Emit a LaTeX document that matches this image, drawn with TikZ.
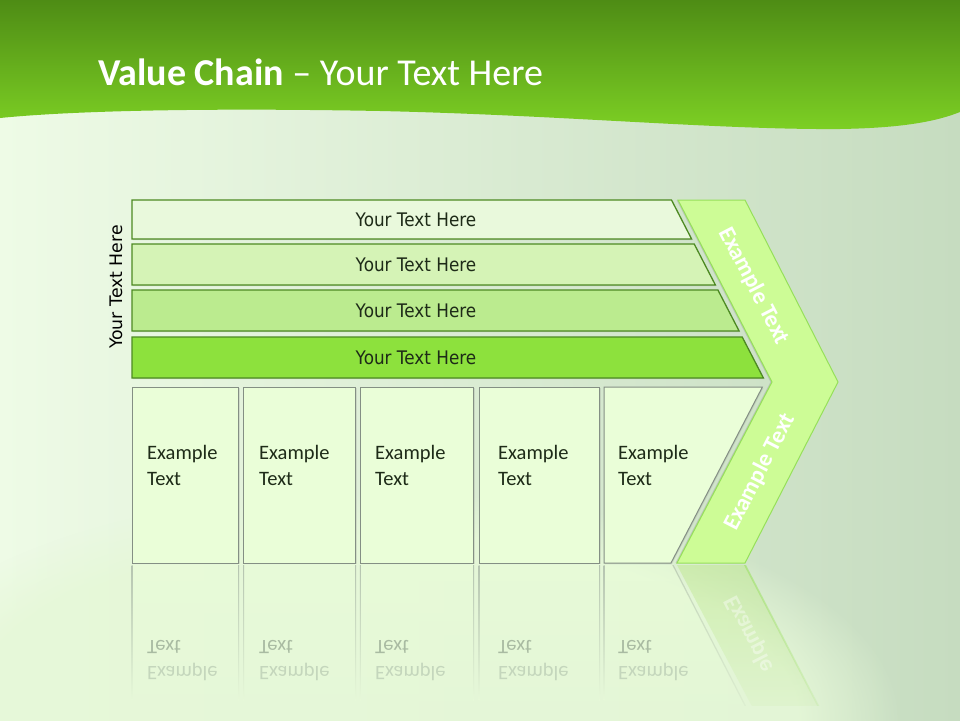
\documentclass[tikz,border=0pt]{standalone}
\usepackage{fontspec}
\setmainfont{Carlito}
\newfontfamily\barfont[FakeStretch=0.9]{DejaVu Sans}
\newfontfamily\vfont{DejaVu Sans}
\usetikzlibrary{fadings,shadows}
\definecolor{bgL}{HTML}{EEFBE6}
\definecolor{bgM}{HTML}{D4E9CC}
\definecolor{bgR}{HTML}{C6DCC0}
\definecolor{bgLow}{HTML}{E6F8D8}
\definecolor{hdTop}{HTML}{4E8C15}
\definecolor{hdBot}{HTML}{7DD024}
\definecolor{barA}{HTML}{E9F9DC}
\definecolor{barB}{HTML}{D5F3B6}
\definecolor{barC}{HTML}{BBEB8F}
\definecolor{barD}{HTML}{8DE13D}
\definecolor{barEdge}{HTML}{4D8A22}
\definecolor{boxFill}{HTML}{EAFED8}
\definecolor{boxEdge}{HTML}{848F84}
\definecolor{chevFill}{HTML}{CDFC96}
\definecolor{chevEdge}{HTML}{96E05A}
\definecolor{txtDark}{HTML}{1E2B18}
\definecolor{refA}{HTML}{C4D6BC}
\definecolor{refB}{HTML}{A9BBA2}
\definecolor{refLine}{HTML}{B5C4B0}
\tikzfading[name=reflfade, top color=transparent!45, bottom color=transparent!100]
\tikzset{
  barshape/.style={draw=barEdge, line width=1.3pt, drop shadow={opacity=0.25, shadow xshift=0.8pt, shadow yshift=-1.2pt}},
  boxshape/.style={draw=boxEdge, fill=boxFill, line width=1pt, drop shadow={opacity=0.2, shadow xshift=1pt, shadow yshift=-1pt}},
  bartext/.style={font=\barfont\fontsize{18.7}{22}\selectfont, text=txtDark},
  boxtext/.style={font=\fontsize{20.5}{26}\selectfont, text=txtDark, align=left, anchor=west, inner sep=0pt},
  reftext/.style={font=\fontsize{20.5}{26}\selectfont, align=left, anchor=west, inner sep=0pt, yscale=-1},
  chevtext/.style={font=\bfseries\fontsize{23.5}{26}\selectfont, text=white, inner sep=1pt},
  refline/.style={top color=refLine, bottom color=bgLow},
}
\begin{document}
\begin{tikzpicture}[x=1pt,y=-1pt]
\useasboundingbox (0,0) rectangle (960,720);
% background
\shade[left color=bgL, middle color=bgM, right color=bgR] (0,0) rectangle (960,720);
\fill[bgLow, path fading=circle with fuzzy edge 20 percent, opacity=0.9] (380,720) ellipse (520 and 230);
% header band
\shade[top color=hdTop, bottom color=hdBot] (0,0) -- (960,0) -- (960,112)
  .. controls (935,122) and (900,128) .. (840,129)
  .. controls (720,130) and (560,115) .. (380,111)
  .. controls (220,108) and (80,110) .. (0,118) -- cycle;
\node[anchor=base west, text=white, font=\fontsize{38}{40}\selectfont, inner sep=0pt] (title) at (98,85) {\textbf{Value Chain} – Your Text Here};

% reflections
\begin{scope}
\clip (0,565) rectangle (960,705);
\fill[boxFill, path fading=reflfade] (132,565) rectangle (238.7,739);
\fill[boxFill, path fading=reflfade] (243.7,565) rectangle (355.7,739);
\fill[boxFill, path fading=reflfade] (360.3,565) rectangle (473.7,739);
\fill[boxFill, path fading=reflfade] (479,565) rectangle (599.5,739);
\fill[boxFill, path fading=reflfade] (604,565) -- (672.7,565) -- (762,739) -- (604,739) -- cycle;
\shade[refline] (131.5,565) rectangle (132.5,700);
\shade[refline] (238.2,565) rectangle (239.2,700);
\shade[refline] (243.2,565) rectangle (244.2,700);
\shade[refline] (355.2,565) rectangle (356.2,700);
\shade[refline] (359.8,565) rectangle (360.8,700);
\shade[refline] (473.2,565) rectangle (474.2,700);
\shade[refline] (478.5,565) rectangle (479.5,700);
\shade[refline] (599,565) rectangle (600,700);
\shade[refline] (603.5,565) rectangle (604.5,700);
\fill[boxEdge, path fading=reflfade, opacity=0.6] (672.2,565) -- (673.6,565) -- (763,739) -- (761.6,739) -- cycle;
\fill[chevFill!85!gray, path fading=reflfade] (677,565) -- (745,565) -- (838,744) -- (772,744) -- cycle;
\fill[chevEdge, path fading=reflfade] (744,565) -- (746,565) -- (839,744) -- (837,744) -- cycle;
\end{scope}
\begin{scope}
\clip (0,565) rectangle (960,672);
\node[chevtext, yscale=-1, rotate=62.7, text opacity=0.4] (rchev) at (760,654) {Example Text};
\end{scope}
\node[reftext] (r1) at (147,661) {\textcolor{refA}{Example}\\\textcolor{refB}{Text}};
\node[reftext] (r2) at (259,661) {\textcolor{refA}{Example}\\\textcolor{refB}{Text}};
\node[reftext] (r3) at (375,661) {\textcolor{refA}{Example}\\\textcolor{refB}{Text}};
\node[reftext] (r4) at (498,661) {\textcolor{refA}{Example}\\\textcolor{refB}{Text}};
\node[reftext] (r5) at (618,661) {\textcolor{refA}{Example}\\\textcolor{refB}{Text}};

% chevron
\draw[fill=chevFill, draw=chevEdge, line width=1pt, drop shadow={opacity=0.3, shadow xshift=-1.5pt, shadow yshift=0pt}]
  (678,200) -- (745,200) -- (838,382) -- (745,563) -- (677,563) -- (772,382) -- cycle;
\node[chevtext, rotate=-62.7] (chevA) at (754,286) {Example Text};
\node[chevtext, rotate=62.7] (chevB) at (760,472) {Example Text};

% bars
\draw[barshape, fill=barA] (132,200) -- (671.5,200) -- (691.6,239) -- (132,239) -- cycle;
\draw[barshape, fill=barB] (132,244) -- (694.2,244) -- (715.4,285) -- (132,285) -- cycle;
\draw[barshape, fill=barC] (132,290) -- (717.9,290) -- (739.1,331) -- (132,331) -- cycle;
\draw[barshape, fill=barD] (132,337) -- (742.2,337) -- (763.4,378) -- (132,378) -- cycle;
\node[bartext] (b1) at (416,219.5) {Your Text Here};
\node[bartext] (b2) at (416,264.5) {Your Text Here};
\node[bartext] (b3) at (416,310.5) {Your Text Here};
\node[bartext] (b4) at (416,357.5) {Your Text Here};

% vertical label
\node[rotate=90, font=\vfont\fontsize{17.3}{20}\selectfont, text=black] (vlab) at (116,287) {Your Text Here};

% boxes
\draw[boxshape] (132,387) rectangle (238.7,563);
\draw[boxshape] (243.7,387) rectangle (355.7,563);
\draw[boxshape] (360.3,387) rectangle (473.7,563);
\draw[boxshape] (479,387) rectangle (599.5,563);
\draw[boxshape] (604,387) -- (762.4,387) -- (671,563) -- (604,563) -- cycle;
\node[boxtext] (t1) at (147,465) {Example\\Text};
\node[boxtext] (t2) at (259,465) {Example\\Text};
\node[boxtext] (t3) at (375,465) {Example\\Text};
\node[boxtext] (t4) at (498,465) {Example\\Text};
\node[boxtext] (t5) at (618,465) {Example\\Text};
\end{tikzpicture}
\end{document}
